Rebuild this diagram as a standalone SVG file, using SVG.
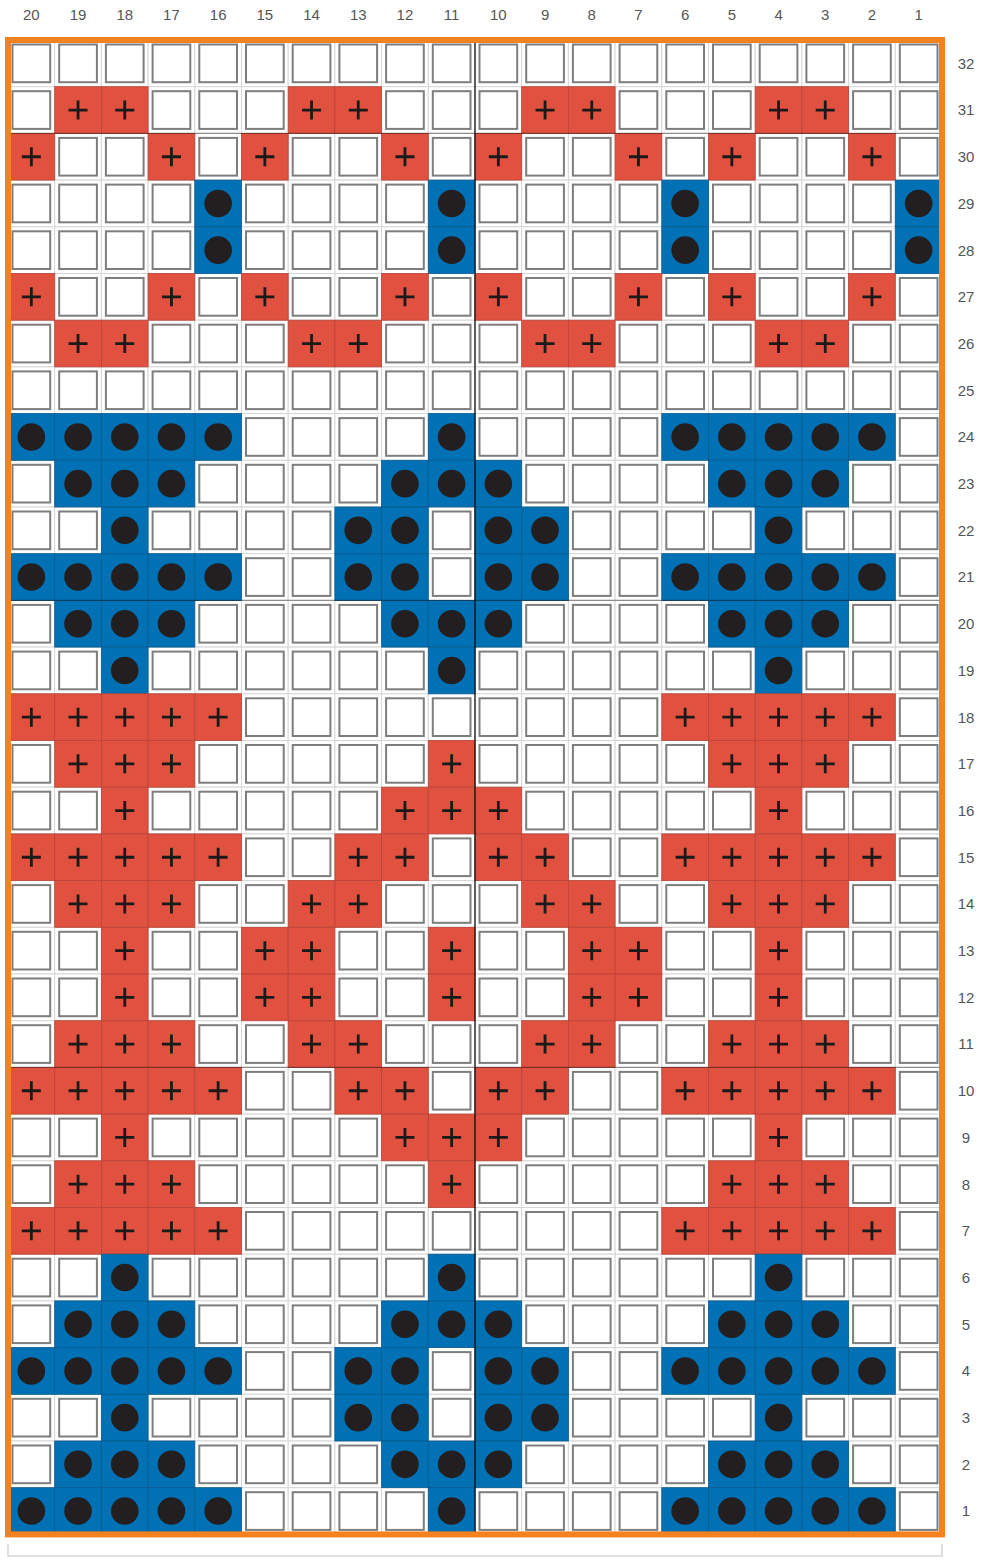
<svg xmlns="http://www.w3.org/2000/svg" xmlns:xlink="http://www.w3.org/1999/xlink" width="982" height="1560" viewBox="0 0 982 1560">
<style>
.wbg{fill:#fff;stroke:#d6d6d6;stroke-width:1}
.win{fill:#fff;stroke:#7d7d7d;stroke-width:2}
.red{fill:#E1513F;stroke:#b8443a;stroke-width:0.8}
.blue{fill:#0071B4;stroke:#0a5a8e;stroke-width:0.8}
.plus{stroke:#1a1a1a;stroke-width:2.8;fill:none}
.dot{fill:#231F20}
.lbl{font-family:"Liberation Sans",Arial,sans-serif;font-size:15px;fill:#555;text-anchor:middle}
</style>
<defs>
<g id="w"><rect width="46.7" height="46.7" class="wbg"/><rect x="4.5" y="4.5" width="37.7" height="37.7" class="win"/></g>
<g id="r"><rect width="46.7" height="46.7" class="red"/><path d="M13.85 23.35h19M23.35 13.85v19" class="plus"/></g>
<g id="b"><rect width="46.7" height="46.7" class="blue"/><circle cx="23.35" cy="23.35" r="13.8" class="dot"/></g>
<g id="wr">
<use href="#w" x="8"/><use href="#w" x="54.7"/><use href="#w" x="101.4"/><use href="#w" x="148.1"/><use href="#w" x="194.8"/><use href="#w" x="241.5"/><use href="#w" x="288.2"/><use href="#w" x="334.9"/><use href="#w" x="381.6"/><use href="#w" x="428.3"/><use href="#w" x="475"/><use href="#w" x="521.7"/><use href="#w" x="568.4"/><use href="#w" x="615.1"/><use href="#w" x="661.8"/><use href="#w" x="708.5"/><use href="#w" x="755.2"/><use href="#w" x="801.9"/><use href="#w" x="848.6"/><use href="#w" x="895.3"/>
</g>
<g id="rA"><use href="#r" x="54.7"/><use href="#r" x="101.4"/><use href="#r" x="288.2"/><use href="#r" x="334.9"/><use href="#r" x="521.7"/><use href="#r" x="568.4"/><use href="#r" x="755.2"/><use href="#r" x="801.9"/></g>
<g id="rB"><use href="#r" x="8"/><use href="#r" x="148.1"/><use href="#r" x="241.5"/><use href="#r" x="381.6"/><use href="#r" x="475"/><use href="#r" x="615.1"/><use href="#r" x="708.5"/><use href="#r" x="848.6"/></g>
<g id="rC"><use href="#b" x="194.8"/><use href="#b" x="428.3"/><use href="#b" x="661.8"/><use href="#b" x="895.3"/></g>
<g id="rD"><use href="#b" x="8"/><use href="#b" x="54.7"/><use href="#b" x="101.4"/><use href="#b" x="148.1"/><use href="#b" x="194.8"/><use href="#b" x="428.3"/><use href="#b" x="661.8"/><use href="#b" x="708.5"/><use href="#b" x="755.2"/><use href="#b" x="801.9"/><use href="#b" x="848.6"/></g>
<g id="rE"><use href="#b" x="54.7"/><use href="#b" x="101.4"/><use href="#b" x="148.1"/><use href="#b" x="381.6"/><use href="#b" x="428.3"/><use href="#b" x="475"/><use href="#b" x="708.5"/><use href="#b" x="755.2"/><use href="#b" x="801.9"/></g>
<g id="rF"><use href="#b" x="101.4"/><use href="#b" x="334.9"/><use href="#b" x="381.6"/><use href="#b" x="475"/><use href="#b" x="521.7"/><use href="#b" x="755.2"/></g>
<g id="rG"><use href="#b" x="8"/><use href="#b" x="54.7"/><use href="#b" x="101.4"/><use href="#b" x="148.1"/><use href="#b" x="194.8"/><use href="#b" x="334.9"/><use href="#b" x="381.6"/><use href="#b" x="475"/><use href="#b" x="521.7"/><use href="#b" x="661.8"/><use href="#b" x="708.5"/><use href="#b" x="755.2"/><use href="#b" x="801.9"/><use href="#b" x="848.6"/></g>
<g id="rH"><use href="#b" x="101.4"/><use href="#b" x="428.3"/><use href="#b" x="755.2"/></g>
<g id="rI"><use href="#r" x="8"/><use href="#r" x="54.7"/><use href="#r" x="101.4"/><use href="#r" x="148.1"/><use href="#r" x="194.8"/><use href="#r" x="661.8"/><use href="#r" x="708.5"/><use href="#r" x="755.2"/><use href="#r" x="801.9"/><use href="#r" x="848.6"/></g>
<g id="rJ"><use href="#r" x="54.7"/><use href="#r" x="101.4"/><use href="#r" x="148.1"/><use href="#r" x="428.3"/><use href="#r" x="708.5"/><use href="#r" x="755.2"/><use href="#r" x="801.9"/></g>
<g id="rK"><use href="#r" x="101.4"/><use href="#r" x="381.6"/><use href="#r" x="428.3"/><use href="#r" x="475"/><use href="#r" x="755.2"/></g>
<g id="rL"><use href="#r" x="8"/><use href="#r" x="54.7"/><use href="#r" x="101.4"/><use href="#r" x="148.1"/><use href="#r" x="194.8"/><use href="#r" x="334.9"/><use href="#r" x="381.6"/><use href="#r" x="475"/><use href="#r" x="521.7"/><use href="#r" x="661.8"/><use href="#r" x="708.5"/><use href="#r" x="755.2"/><use href="#r" x="801.9"/><use href="#r" x="848.6"/></g>
<g id="rM"><use href="#r" x="54.7"/><use href="#r" x="101.4"/><use href="#r" x="148.1"/><use href="#r" x="288.2"/><use href="#r" x="334.9"/><use href="#r" x="521.7"/><use href="#r" x="568.4"/><use href="#r" x="708.5"/><use href="#r" x="755.2"/><use href="#r" x="801.9"/></g>
<g id="rN"><use href="#r" x="101.4"/><use href="#r" x="241.5"/><use href="#r" x="288.2"/><use href="#r" x="428.3"/><use href="#r" x="568.4"/><use href="#r" x="615.1"/><use href="#r" x="755.2"/></g>
</defs>
<rect width="982" height="1560" fill="#fff"/>
<g id="col-labels" class="lbl">
<text x="31.35" y="20">20</text><text x="78.05" y="20">19</text><text x="124.75" y="20">18</text><text x="171.45" y="20">17</text><text x="218.15" y="20">16</text><text x="264.85" y="20">15</text><text x="311.55" y="20">14</text><text x="358.25" y="20">13</text><text x="404.95" y="20">12</text><text x="451.65" y="20">11</text><text x="498.35" y="20">10</text><text x="545.05" y="20">9</text><text x="591.75" y="20">8</text><text x="638.45" y="20">7</text><text x="685.15" y="20">6</text><text x="731.85" y="20">5</text><text x="778.55" y="20">4</text><text x="825.25" y="20">3</text><text x="871.95" y="20">2</text><text x="918.65" y="20">1</text>
</g>
<g id="row-labels" class="lbl">
<text x="966" y="68.7">32</text><text x="966" y="115.4">31</text><text x="966" y="162.1">30</text><text x="966" y="208.8">29</text><text x="966" y="255.5">28</text><text x="966" y="302.2">27</text><text x="966" y="348.9">26</text><text x="966" y="395.6">25</text><text x="966" y="442.3">24</text><text x="966" y="489">23</text><text x="966" y="535.7">22</text><text x="966" y="582.4">21</text><text x="966" y="629.1">20</text><text x="966" y="675.8">19</text><text x="966" y="722.5">18</text><text x="966" y="769.2">17</text><text x="966" y="815.9">16</text><text x="966" y="862.6">15</text><text x="966" y="909.3">14</text><text x="966" y="956">13</text><text x="966" y="1002.7">12</text><text x="966" y="1049.4">11</text><text x="966" y="1096.1">10</text><text x="966" y="1142.8">9</text><text x="966" y="1189.5">8</text><text x="966" y="1236.2">7</text><text x="966" y="1282.9">6</text><text x="966" y="1329.6">5</text><text x="966" y="1376.3">4</text><text x="966" y="1423">3</text><text x="966" y="1469.7">2</text><text x="966" y="1516.4">1</text>
</g>
<g id="base">
<use href="#wr" y="40"/><use href="#wr" y="86.7"/><use href="#wr" y="133.4"/><use href="#wr" y="180.1"/><use href="#wr" y="226.8"/><use href="#wr" y="273.5"/><use href="#wr" y="320.2"/><use href="#wr" y="366.9"/><use href="#wr" y="413.6"/><use href="#wr" y="460.3"/><use href="#wr" y="507"/><use href="#wr" y="553.7"/><use href="#wr" y="600.4"/><use href="#wr" y="647.1"/><use href="#wr" y="693.8"/><use href="#wr" y="740.5"/><use href="#wr" y="787.2"/><use href="#wr" y="833.9"/><use href="#wr" y="880.6"/><use href="#wr" y="927.3"/><use href="#wr" y="974"/><use href="#wr" y="1020.7"/><use href="#wr" y="1067.4"/><use href="#wr" y="1114.1"/><use href="#wr" y="1160.8"/><use href="#wr" y="1207.5"/><use href="#wr" y="1254.2"/><use href="#wr" y="1300.9"/><use href="#wr" y="1347.6"/><use href="#wr" y="1394.3"/><use href="#wr" y="1441"/><use href="#wr" y="1487.7"/>
</g>
<g id="colored">
<use href="#rA" y="86.7"/>
<use href="#rB" y="133.4"/>
<use href="#rC" y="180.1"/>
<use href="#rC" y="226.8"/>
<use href="#rB" y="273.5"/>
<use href="#rA" y="320.2"/>
<use href="#rD" y="413.6"/>
<use href="#rE" y="460.3"/>
<use href="#rF" y="507"/>
<use href="#rG" y="553.7"/>
<use href="#rE" y="600.4"/>
<use href="#rH" y="647.1"/>
<use href="#rI" y="693.8"/>
<use href="#rJ" y="740.5"/>
<use href="#rK" y="787.2"/>
<use href="#rL" y="833.9"/>
<use href="#rM" y="880.6"/>
<use href="#rN" y="927.3"/>
<use href="#rN" y="974"/>
<use href="#rM" y="1020.7"/>
<use href="#rL" y="1067.4"/>
<use href="#rK" y="1114.1"/>
<use href="#rJ" y="1160.8"/>
<use href="#rI" y="1207.5"/>
<use href="#rH" y="1254.2"/>
<use href="#rE" y="1300.9"/>
<use href="#rG" y="1347.6"/>
<use href="#rF" y="1394.3"/>
<use href="#rE" y="1441"/>
<use href="#rD" y="1487.7"/>
</g>
<g id="guides">
<path d="M8 133.4H942M8 600.4H942M8 1067.4H942" stroke="#000" stroke-opacity="0.35" stroke-width="1.4" fill="none"/>
<path d="M475 40V1534.4" stroke="#111" stroke-width="1.3" fill="none"/>
</g>
<rect id="frame" x="8" y="40" width="934" height="1494.4" fill="none" stroke="#F5821F" stroke-width="6"/>
<path id="bracket" d="M8 1544V1556H942V1544" fill="none" stroke="#d5d5d5" stroke-width="1.5"/>
</svg>
